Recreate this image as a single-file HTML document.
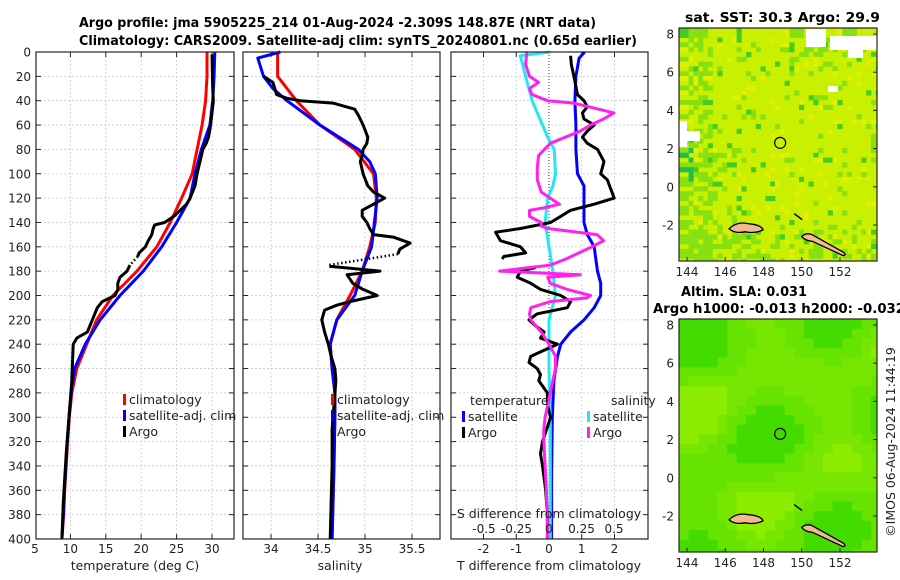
<!DOCTYPE html>
<html><head><meta charset="utf-8">
<style>
html,body{margin:0;padding:0;background:#fff;}
svg{display:block;font-family:"DejaVu Sans","Liberation Sans",sans-serif;}
</style></head>
<body>
<svg id="chart" width="900" height="580" viewBox="0 0 900 580" xmlns="http://www.w3.org/2000/svg">
<text x="79" y="27" font-size="13" font-weight="bold" textLength="517" lengthAdjust="spacingAndGlyphs">Argo profile: jma 5905225_214 01-Aug-2024 -2.309S 148.87E (NRT data)</text>
<text x="79" y="45" font-size="13" font-weight="bold" textLength="558" lengthAdjust="spacingAndGlyphs">Climatology: CARS2009. Satellite-adj clim: synTS_20240801.nc (0.65d earlier)</text>
<g id="g"></g>
</svg>
<script>
// ---- data: depths (m) and values ----
const tClimDepth = [0,20,40,60,80,100,120,140,160,180,200,220,240,260,280,300,320,340,360,380,400];
const tClimVals  = [29.3,29.3,29.1,28.6,27.9,27.2,25.7,24.1,22.2,19.4,16.0,13.7,12.3,10.9,10.2,9.85,9.6,9.4,9.2,9.05,8.8];
const tSatDepth  = [0,20,40,60,80,100,120,140,160,180,200,220,240,260,280,300,320,340,360,380,400];
const tSatVals   = [30.4,30.3,30.1,29.7,28.5,27.6,26.9,25.0,22.9,20.3,17.0,14.2,12.1,10.6,10.1,9.8,9.55,9.35,9.15,9.0,8.8];
const tArgoDepth = [2,30,40,50,60,70,75,80,90,100,110,120,125,135,140,142,145,150,155,160,165,168];
const tArgoVals  = [30.0,30.1,30.2,30.0,29.8,29.5,29.2,28.7,28.3,27.9,27.6,26.9,26.4,24.6,23.3,21.9,21.7,21.5,21.0,20.6,19.7,19.5];
const tArgoDepth2 = [175,180,185,190,195,200,205,210,220,230,235,240,255,270,300,330,370,400];
const tArgoVals2  = [18.4,18.0,17.0,16.7,16.7,16.3,14.5,13.8,13.1,12.4,10.9,10.4,10.3,10.2,9.8,9.4,9.0,8.8];
const sClimDepth = [0,20,30,40,60,80,100,120,140,160,180,200,220,240,260,280,300,340,400];
const sClimVals  = [34.07,34.07,34.17,34.27,34.52,34.89,35.09,35.12,35.11,35.05,34.97,34.84,34.70,34.63,34.65,34.68,34.68,34.67,34.65];
const sSatDepth  = [0,5,20,30,40,60,80,90,100,120,140,160,180,200,220,240,260,280,300,340,400];
const sSatVals   = [34.10,33.86,33.92,34.02,34.17,34.52,34.93,35.05,35.11,35.13,35.10,35.07,34.97,34.89,34.70,34.63,34.65,34.68,34.68,34.67,34.65];
const sArgoDepth = [20,25,30,35,38,40,42,47,52,60,70,75,80,85,90,100,110,115,120,125,130,135,140,145,150,152,157,162,166];
const sArgoVals  = [33.92,34.02,34.04,34.06,34.17,34.31,34.66,34.89,34.93,34.98,35.03,35.02,34.98,34.97,34.95,34.98,35.03,35.09,35.21,35.09,34.97,34.97,35.02,35.05,35.09,35.30,35.48,35.37,35.35];
const sArgoDotDepth = [166,175];
const sArgoDotVals  = [35.35,34.61];
const sArgoDepth2 = [176,180,183,190,195,200,205,208,212,220,230,240,250,260,270,300,310,340,400];
const sArgoVals2  = [34.62,35.16,34.81,34.87,34.98,35.13,34.84,34.70,34.57,34.54,34.57,34.61,34.64,34.68,34.69,34.66,34.65,34.65,34.63];
const dTSatDepth = [0,5,20,40,60,80,100,110,120,140,150,160,170,180,190,200,210,220,230,240,250,270,300,350,400];
const dTSatVals  = [1.09,0.92,0.82,0.79,0.82,0.82,0.87,1.07,1.07,1.07,1.17,1.38,1.43,1.48,1.58,1.58,1.38,1.07,0.66,0.36,0.26,0.15,0.10,0.08,0.08];
const dTArgoDepth = [3,10,20,35,40,45,50,55,60,65,70,75,80,90,100,105,120,125,130,140,145,148,155,160,165,168,170];
const dTArgoVals  = [0.66,0.68,0.76,0.87,1.07,1.17,1.02,1.07,1.38,1.17,1.02,1.17,1.48,1.68,1.58,1.78,1.99,1.38,0.66,0.05,-0.87,-1.63,-1.48,-0.87,-0.71,-1.38,-1.43];
const dTArgoDepth2 = [177,180,185,190,195,200,205,210,215,220,225,230,235,240,245,250,255,260,265,270,280,290,300,320,330,340,360,380,400];
const dTArgoVals2  = [-0.41,-0.87,-0.97,-0.56,-0.26,0.36,0.66,0.56,-0.36,-0.61,-0.41,-0.15,-0.26,0.26,-0.15,-0.56,-0.61,-0.36,-0.26,-0.31,-0.05,-0.05,0.05,-0.20,-0.26,-0.20,-0.10,-0.05,-0.05];
const dSSatDepth = [0,3,20,40,60,70,80,100,110,120,140,160,180,200,220,240,260,300,400];
const dSSatVals  = [0.01,-0.22,-0.18,-0.13,-0.05,-0.01,0.04,0.05,0.03,-0.01,-0.03,0.00,0.03,0.05,0.00,0.00,0.00,0.01,0.01];
const dSArgoDepth = [0,10,20,25,30,35,40,42,50,55,60,65,75,85,95,105,115,120,125,128,130,135,140,143,145,150,155,160,170,175,180,183,185,190,195,200,202,205,210,215,220,230,240,250,260,270,280,290,300,310,320,340,360,400];
const dSArgoVals  = [-0.17,-0.18,-0.15,-0.08,-0.15,-0.13,-0.01,0.19,0.50,0.42,0.32,0.24,0.01,-0.08,-0.09,-0.09,-0.06,0.01,0.08,-0.04,-0.15,-0.15,-0.06,-0.06,-0.01,0.37,0.42,0.33,0.13,0.01,-0.38,0.24,-0.01,0.01,0.14,0.32,0.29,0.01,-0.14,-0.15,-0.14,-0.06,0.00,0.05,0.05,0.03,0.01,-0.01,-0.03,-0.04,-0.04,-0.03,-0.02,-0.01];
const depthTicks = [0,20,40,60,80,100,120,140,160,180,200,220,240,260,280,300,320,340,360,380,400];
const tTicks = [5,10,15,20,25,30];
const sTicks = [34,34.5,35,35.5];
const sTickLabels = ["34","34.5","35","35.5"];
const dTTicks = [-2,-1,0,1,2];
const dSTicks = [-0.5,-0.25,0,0.25,0.5];
const dSTickLabels = ["-0.5","-0.25","0","0.25","0.5"];
const latTicks = [8,6,4,2,0,-2];
const lonTicks = [144,146,148,150,152];

const NS="http://www.w3.org/2000/svg";
const G=document.getElementById('g');
function mk(tag,attrs,parent){const e=document.createElementNS(NS,tag);for(const k in attrs)e.setAttribute(k,attrs[k]);(parent||G).appendChild(e);return e;}
function txt(s,x,y,attrs,parent){const e=mk('text',Object.assign({x:x,y:y,'font-size':12,fill:'#222'},attrs||{}),parent);e.textContent=s;return e;}

const Y0=52, YS=1.2175;
function yD(d){return Y0+d*YS;}
function lin(d0,d1,p0,p1){return v=>p0+(v-d0)*(p1-p0)/(d1-d0);}
const P1={l:36,r:234}, P2={l:243,r:440}, P3={l:451,r:648};
const xT=lin(5,30,35,212);
const xS=lin(34,35,271,365);
const xDT=lin(0,1,549,581.75);
const xDS=lin(0,1,549,679);
const YB=yD(400);

function panel(P,name,gridXs,xf){
  const g=mk('g',{});
  
  
  mk('rect',{x:P.l,y:Y0,width:P.r-P.l,height:YB-Y0,fill:'#fff'},g);
  depthTicks.forEach(d=>{ if(d>0&&d<400){
    const l=mk('line',{x1:P.l,x2:P.r,y1:yD(d),y2:yD(d),stroke:'#c3cbe6','stroke-width':0.8,'stroke-dasharray':'2,2'},g);
    }
    mk('line',{x1:P.l,x2:P.l+5,y1:yD(d),y2:yD(d),stroke:'#222','stroke-width':1},g);
    mk('line',{x1:P.r-5,x2:P.r,y1:yD(d),y2:yD(d),stroke:'#222','stroke-width':1},g);
  });
  gridXs.forEach(v=>{const x=xf(v);
    const l=mk('line',{x1:x,x2:x,y1:Y0,y2:YB,stroke:'#c3cbe6','stroke-width':0.8,'stroke-dasharray':'2,2'},g);
    
    mk('line',{x1:x,x2:x,y1:YB-5,y2:YB,stroke:'#222'},g);
    mk('line',{x1:x,x2:x,y1:Y0,y2:Y0+5,stroke:'#222'},g);
  });
  return g;
}
function frame(P,g){mk('rect',{x:P.l,y:Y0,width:P.r-P.l,height:YB-Y0,fill:'none',stroke:'#222','stroke-width':1.2},g);}
function line(depths,vals,xf,color,name,g,dash){
  const pts=depths.map((d,i)=>xf(vals[i]).toFixed(1)+','+yD(d).toFixed(1)).join(' ');
  const a={points:pts,fill:'none',stroke:color,'stroke-width':dash?2.5:3,'stroke-linejoin':'round'};
  if(dash)a['stroke-dasharray']='1.5,2.5';
  const e=mk('polyline',a,g);
  
  
  return e;
}
function legend(items,x,y,g){
  items.forEach((it,i)=>{
    const yy=y+i*16;
    mk('rect',{x:x,y:yy-10,width:3,height:11,fill:it[1]},g);
    const t=txt(it[0],x+6,yy,{'font-size':12.5},g);
    
    
  });
}

// Panel 1
const g1=panel(P1,'temperature-panel',tTicks.slice(1),xT);
depthTicks.forEach(d=>{const t=txt(String(d),31,yD(d)+4.5,{'text-anchor':'end'},g1);
  });
tTicks.forEach(v=>{const t=txt(String(v),xT(v),553,{'text-anchor':'middle'},g1);
  });
line(tClimDepth,tClimVals,xT,'#ff0000','temp-climatology-line',g1);
line(tSatDepth,tSatVals,xT,'#0000ff','temp-satellite-line',g1);
line(tArgoDepth,tArgoVals,xT,'#000','temp-argo-line',g1);
line([168,175],[19.5,18.4],xT,'#000','temp-argo-dotted',g1,true);
line(tArgoDepth2,tArgoVals2,xT,'#000','temp-argo-line-deep',g1);
legend([['climatology','#ff0000','climatology'],['satellite-adj. clim','#0000ff','satellite'],['Argo','#000','argo']],123,404,g1);
frame(P1,g1);
const xl1=txt('temperature (deg C)',135,570,{'text-anchor':'middle','font-size':12.5},g1);


// Panel 2
const g2=panel(P2,'salinity-panel',sTicks,xS);
sTicks.forEach((v,i)=>{const t=txt(sTickLabels[i],xS(v),553,{'text-anchor':'middle'},g2);
  });
line(sClimDepth,sClimVals,xS,'#ff0000','sal-climatology-line',g2);
line(sSatDepth,sSatVals,xS,'#0000ff','sal-satellite-line',g2);
line(sArgoDepth,sArgoVals,xS,'#000','sal-argo-line',g2);
line(sArgoDotDepth,sArgoDotVals,xS,'#000','sal-argo-dotted',g2,true);
line(sArgoDepth2,sArgoVals2,xS,'#000','sal-argo-line-deep',g2);
legend([['climatology','#ff0000','climatology'],['satellite-adj. clim','#0000ff','satellite'],['Argo','#000','argo']],331,404,g2);
frame(P2,g2);
const xl2=txt('salinity',340,570,{'text-anchor':'middle','font-size':12.5},g2);


// Panel 3
const g3=panel(P3,'difference-panel',[-2,-1,1,2],xDT);
mk('line',{x1:549,x2:549,y1:Y0,y2:YB,stroke:'#333','stroke-width':1,'stroke-dasharray':'1,2'},g3);
dTTicks.forEach(v=>{const t=txt(String(v),xDT(v),553,{'text-anchor':'middle'},g3);
  });
line(dTSatDepth,dTSatVals,xDT,'#0000ff','dT-satellite-line',g3);
line(dSSatDepth,dSSatVals,xDS,'#22e8f0','dS-satellite-line',g3);
line(dTArgoDepth,dTArgoVals,xDT,'#000','dT-argo-line',g3);
line(dTArgoDepth2,dTArgoVals2,xDT,'#000','dT-argo-line-deep',g3);
line(dSArgoDepth,dSArgoVals,xDS,'#ff22ee','dS-argo-line',g3);
txt('temperature',470,405,{'font-size':12.5},g3);
txt('salinity',611,405,{'font-size':12.5},g3);
legend([['satellite','#0000ff','dT-satellite'],['Argo','#000','dT-argo']],462,421,g3);
legend([['satellite','#22e8f0','dS-satellite'],['Argo','#ff22ee','dS-argo']],587,421,g3);
const st=txt('S difference from climatology',549,518,{'text-anchor':'middle','font-size':12.5},g3);

dSTicks.forEach((v,i)=>{const t=txt(dSTickLabels[i],xDS(v),533,{'text-anchor':'middle'},g3);
  });
frame(P3,g3);
const xl3=txt('T difference from climatology',549,570,{'text-anchor':'middle','font-size':12.5},g3);


// ---- Maps (imagery) ----
const M={l:679,r:877};
const xLon=lin(144,152,687,840);
function map(top,name,kind){
  const yLat=lin(8,-2,top+6,top+197);
  const g=mk('g',{});
  
  
  const bot=top+233;
  mk('rect',{x:M.l,y:top,width:M.r-M.l,height:233,fill:kind==='sst'?'#c8f000':'#66e300'},g);
  const cs=kind==='sst'?4.8:9.6;
  for(let yy=top;yy<bot;yy+=cs){for(let xx=M.l;xx<M.r;xx+=cs){
    const i=Math.floor((xx-M.l)/cs), j=Math.floor((yy-top)/cs);
    const h=((i*73856093)^(j*19349663))>>>0; const r=(h%1000)/1000;
    const fx=(xx-M.l)/(M.r-M.l), fy=(yy-top)/233;
    let c=null;
    if(kind==='sst'){
      const greenish=(fx<0.15?0.5:0)+(fy>0.85?0.4:0)+(fx<0.25&&fy>0.5?0.3:0)+(fy<0.15&&fx>0.5?0.3:0);
      if(r<0.10+greenish*0.6)c=r<0.04?'#44cc22':'#88e010';
      else if(r>0.93)c='#e0f000';
      if(fx<0.06&&fy>0.5&&fy<0.65&&r<0.5)c='#22bb55';
    }else{
      const v=Math.sin(fx*9+1)*Math.cos(fy*7)+0.6*Math.sin(fy*13+fx*3);
      if(v>0.6)c='#44db00'; else if(v<-0.7)c='#8ced00'; else if(v<-0.2)c='#77e600';
    }
    if(c)mk('rect',{x:xx,y:yy,width:Math.min(cs,M.r-xx)+0.3,height:Math.min(cs,bot-yy)+0.3,fill:c},g);
  }}
  if(kind==='sst'){
    [[806,29,20,18],[830,36,47,14],[848,50,15,8],[679,121,8,26],[686,131,14,10],[828,86,10,6]].forEach(w=>mk('rect',{x:w[0],y:w[1],width:w[2],height:w[3],fill:'#fff'},g));
  }
  // land
  mk('path',{d:`M${xLon(146.2)},${yLat(-2.2)} q8,-8 20,-5 q12,1 14,6 q-8,4 -18,2 q-10,2 -16,-3z`,fill:'#f2b894',stroke:'#000','stroke-width':1.3},g);
  mk('path',{d:`M${xLon(150)},${yLat(-2.6)} q4,-4 10,-2 l32,18 q3,3 -1,3 l-30,-14 q-8,-1 -11,-5z`,fill:'#f2b894',stroke:'#000','stroke-width':1.3},g);
  mk('path',{d:`M${xLon(149.6)},${yLat(-1.4)} l4,3 l4,3`,fill:'none',stroke:'#000','stroke-width':1.5},g);
  mk('circle',{cx:xLon(148.87),cy:yLat(2.3),r:5.5,fill:'none',stroke:'#000','stroke-width':1.2},g);
  mk('rect',{x:M.l,y:top,width:M.r-M.l,height:233,fill:'none',stroke:'#222','stroke-width':1.2},g);
  latTicks.forEach(v=>{const y=yLat(v);
    mk('line',{x1:M.r-4,x2:M.r,y1:y,y2:y,stroke:'#222'},g);
    const t=txt(String(v),674,y+4.5,{'text-anchor':'end'},g);
    });
  lonTicks.forEach(v=>{const x=xLon(v);
    mk('line',{x1:x,x2:x,y1:bot-4,y2:bot,stroke:'#222'},g);
    const t=txt(String(v),x,bot+15,{'text-anchor':'middle'},g);
    });
}
map(28,'sst-map','sst');
map(319,'sla-map','sla');
const mt1=txt('sat. SST: 30.3 Argo: 29.9',685,22,{'font-size':13,'font-weight':'bold',fill:'#000',textLength:195,lengthAdjust:'spacingAndGlyphs'});

const mt2=txt('Altim. SLA: 0.031',681,296,{'font-size':13,'font-weight':'bold',fill:'#000',textLength:126,lengthAdjust:'spacingAndGlyphs'});

const mt3=txt('Argo h1000: -0.013 h2000: -0.032',653,313,{'font-size':13,'font-weight':'bold',fill:'#000',textLength:252,lengthAdjust:'spacingAndGlyphs'});

const cr=txt('©IMOS 06-Aug-2024 11:44:19',0,0,{'text-anchor':'middle','font-size':12.5,transform:'translate(895,442) rotate(-90)'});

</script>
</body></html>
